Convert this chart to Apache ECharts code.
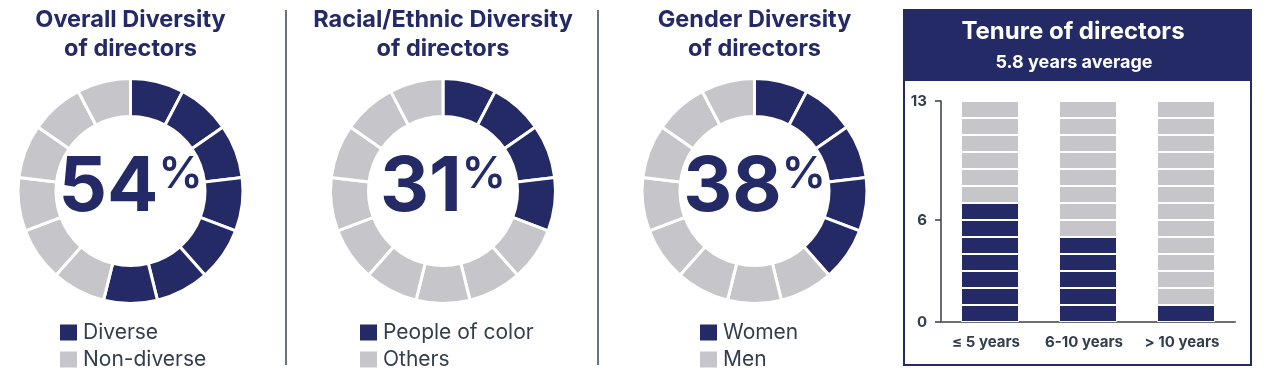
<!DOCTYPE html>
<html>
<head>
<meta charset="utf-8">
<script src="https://cdn.jsdelivr.net/npm/echarts@6/dist/echarts.min.js"></script>
<style>
html,body{margin:0;padding:0;background:#fff;}
#c{width:1269px;height:379px;}
</style>
</head>
<body>
<div id="c"></div>
<script>
// ---- data ----
const boardSize = 13;
const donutTitles = ['Overall Diversity\nof directors', 'Racial/Ethnic Diversity\nof directors', 'Gender Diversity\nof directors'];
const donutCounts = [7, 4, 5];
const donutLegendA = ['Diverse', 'People of color', 'Women'];
const donutLegendB = ['Non-diverse', 'Others', 'Men'];
const tenureTitle = 'Tenure of directors';
const tenureSubtitle = '5.8 years average';
const tenureCategories = ['≤ 5 years', '6-10 years', '> 10 years'];
const tenureCounts = [7, 5, 1];
const yTickValues = [0, 6, 13];

// ---- style / layout ----
const NAVY = '#242a65';
const GREY = '#c6c6ca';
const TEXT = '#333d4b';
const FONT = 'Inter, "Noto Sans", sans-serif';
const centers = [130.5, 443, 754.5];
const legendLeft = [60, 360, 700];
const cy = 191;

const chart = echarts.init(document.getElementById('c'), null, {renderer: 'canvas'});

const titles = [];
const legends = [];
const series = [];

donutTitles.forEach((t, k) => {
  titles.push({
    text: t, left: centers[k], top: 5, textAlign: 'center', padding: 0,
    textStyle: {fontFamily: FONT, fontSize: 23.5, fontWeight: 700, color: NAVY, lineHeight: 29}
  });
  const pct = Math.round(donutCounts[k] / boardSize * 100);
  titles.push({
    text: '{n|' + pct + '}{p|%}', left: centers[k], top: 150, textAlign: 'center', padding: 0,
    textStyle: {
      rich: {
        n: {fontFamily: FONT, fontSize: 76, fontWeight: 700, color: NAVY, lineHeight: 76},
        p: {fontFamily: FONT, fontSize: 44, fontWeight: 600, color: NAVY, lineHeight: 44, padding: [3, 0, 0, 0], verticalAlign: 'top'}
      }
    }
  });
  legends.push({
    data: [donutLegendA[k], donutLegendB[k]],
    left: legendLeft[k], top: 322, orient: 'vertical', icon: 'rect',
    itemWidth: 17, itemHeight: 16, itemGap: 6, selectedMode: false, padding: 0,
    itemStyle: {borderWidth: 0},
    textStyle: {fontFamily: FONT, fontSize: 21, color: TEXT, lineHeight: 16, padding: [0, 0, 0, 1]}
  });
  const data = [];
  for (let i = 0; i < boardSize; i++) {
    const a = i < donutCounts[k];
    data.push({value: 1, name: a ? donutLegendA[k] : donutLegendB[k], itemStyle: {color: a ? NAVY : GREY}});
  }
  series.push({
    type: 'pie', legendIndex: k, center: [centers[k], cy], radius: [74.5, 112.5],
    startAngle: 90, clockwise: true, label: {show: false}, labelLine: {show: false},
    emphasis: {disabled: true}, silent: true, animation: false,
    itemStyle: {borderColor: '#fff', borderWidth: 3},
    data: data
  });
});

titles.push({
  text: tenureTitle, left: 1073, top: 17, textAlign: 'center', padding: 0,
  textStyle: {fontFamily: FONT, fontSize: 24, fontWeight: 700, color: '#fff', lineHeight: 30}
});
titles.push({
  text: tenureSubtitle, left: 1074, top: 52, textAlign: 'center', padding: 0,
  textStyle: {fontFamily: FONT, fontSize: 18, fontWeight: 700, color: '#fff', lineHeight: 22}
});

for (let s = 0; s < boardSize; s++) {
  series.push({
    type: 'bar', stack: 'tenure', barWidth: 58, animation: false, silent: true,
    data: tenureCategories.map(() => 1),
    itemStyle: {
      borderColor: '#fff', borderWidth: 1,
      color: p => (s < tenureCounts[p.dataIndex] ? NAVY : GREY)
    }
  });
}

const option = {
  backgroundColor: '#fff',
  animation: false,
  title: titles,
  legend: legends,
  grid: {left: 941, top: 101, width: 294, height: 221, containLabel: false},
  xAxis: {
    type: 'category', data: tenureCategories,
    axisLine: {lineStyle: {color: '#6e6e72', width: 2}},
    axisTick: {show: false},
    axisLabel: {interval: 0, fontFamily: FONT, fontSize: 15, fontWeight: 700, color: TEXT, margin: 13, padding: [0, 8, 0, 0]}
  },
  yAxis: {
    type: 'value', min: 0, max: boardSize, interval: 1,
    axisLine: {show: true, lineStyle: {color: TEXT, width: 1.5}},
    axisTick: {show: true, length: 6, customValues: yTickValues, lineStyle: {color: TEXT, width: 1.5}},
    axisLabel: {customValues: yTickValues, fontFamily: FONT, fontSize: 15, fontWeight: 700, color: TEXT, margin: 14},
    splitLine: {show: false}
  },
  graphic: [
    {type: 'line', shape: {x1: 286, y1: 10, x2: 286, y2: 365}, style: {stroke: '#3b4250', lineWidth: 1.5}},
    {type: 'line', shape: {x1: 598, y1: 10, x2: 598, y2: 365}, style: {stroke: '#3b4250', lineWidth: 1.5}},
    {type: 'rect', z: -1, shape: {x: 904, y: 10, width: 347, height: 71}, style: {fill: NAVY}},
    {type: 'rect', z: -1, shape: {x: 904, y: 10, width: 347, height: 355}, style: {fill: 'none', stroke: NAVY, lineWidth: 2}}
  ],
  series: series
};
chart.setOption(option);
</script>
</body>
</html>
